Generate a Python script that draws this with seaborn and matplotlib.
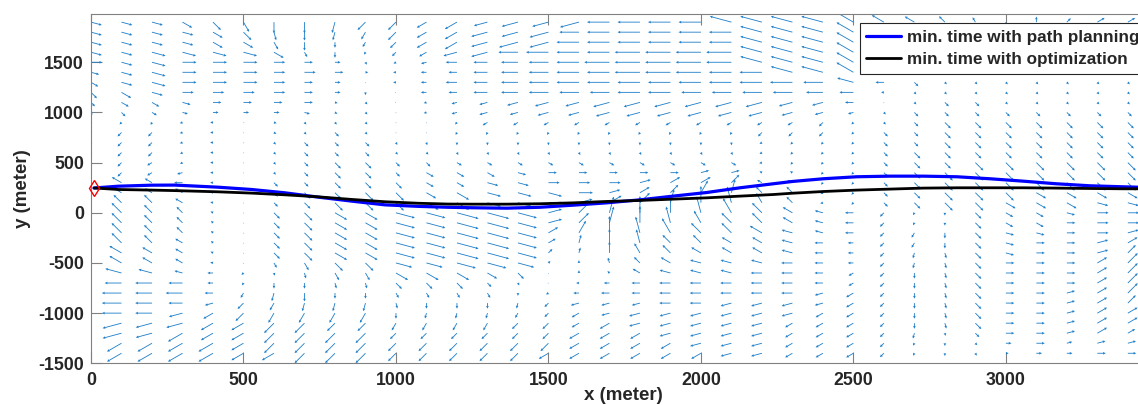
import numpy as np
import matplotlib
matplotlib.use("Agg")
import matplotlib.pyplot as plt
import seaborn as sns

# ---------------- data ----------------
# Path 1: minimum time with path planning (blue)
plan_x = [10, 90, 199, 275, 417, 527, 636, 745, 855, 964, 1073, 1170, 1254, 1363,
          1472, 1582, 1691, 1800, 1909, 2019, 2128, 2237, 2300, 2401, 2511, 2620,
          2729, 2839, 2948, 3057, 3166, 3276, 3385, 3433]
plan_y = [247, 265, 275, 276, 255, 232, 199, 156, 116, 79, 64, 55, 50, 46,
          55, 76, 99, 129, 166, 202, 249, 289, 312, 339, 359, 365,
          365, 359, 339, 315, 289, 269, 259, 255]
# Path 2: minimum time with optimization (black)
opt_x = plan_x
opt_y = [247, 232, 226, 221, 209, 196, 179, 159, 133, 110, 95, 87, 86, 86,
         90, 99, 113, 123, 136, 149, 166, 182, 195, 212, 226, 236,
         246, 249, 249, 249, 246, 242, 239, 239]
start_x = [10]
start_y = [247]

# Current field read arrow by arrow: 35 columns (x = 0..3400 m),
# 34 rows (y = 1900 .. -1400 m).
# Direction code: k -> k*15 degrees on screen (0 = east, 6 = north, c = west, i = south)
# Length code: apparent arrow length in steps of 2.8 px
grid_x = np.arange(35) * 100.0
grid_y = 1900.0 - np.arange(34) * 100.0

dir_rows = [
    "nnnmlkiihf" "feeddddccccb" "bbba" "aa98i6322",
    "nnnnmljihg" "feedddcccccc" "bbba" "aa99i6322",
    "nnnnmmkiig" "feedddcccccc" "bbba" "lllllllll",
    "nnnnnnmkig" "feddcccccccc" "bbba" "lllllllll",
    "0nn000000k" "edcccccccccc" "bbba" "lllllllll",
    "nnn0000000" "cccccccccccc" "cbba" "lllllllll",
    "mnn000000i" "cccccccccccc" "cccb" "cllllllll",
    "lmn000000i" "cccccccccccc" "cccc" "cllllllll",
    "lmmn0000nl" "cddddddddddd" "dddc" "illllllll",
    "klmn000nml" "iddddddddddd" "dddd" "lllllllll",
    "hfgdc0nlll" "ihfeeeeeeeee" "eeff" "lllllllll",
    "hffdcimlll" "iigggggggggg" "ffff" "lllllllll",
    "hffdcillll" "kjiiiiiiiiii" "efff" "lllllllll",
    "hffecillll" "llkkkkkkkkkk" "efff" "lllllllll",
    "hfeecillll" "llmmmmmmmmmm" "dfff" "lllllllll",
    "ffedcillll" "lmmmn0000011" "aaff" "lllllllll",
    "aaaccillll" "lmmnn0001223" "aaff" "lllllllll",
    "aaaabillll" "lmmnnn012345" "99ef" "lllllmmmm",
    "999abillll" "lmmnn0123567" "89df" "llllmmmnn",
    "9999aillmm" "nnnnn1356678" "9abc" "fgilmmn00",
    "99999illmm" "nnnnn1356789" "9abc" "fgilmm000",
    "99999illmm" "nnnnn2467899" "abbc" "fgilnn001",
    "999a9illmm" "nnnnn256799a" "abcc" "fgiln0012",
    "aaaaaillmm" "nnnnn35689aa" "abcc" "fhjln0013",
    "aaaabikkll" "nnnnn3679abb" "bccc" "fhjl00023",
    "bbbbcfjjkk" "mmmmli69abbb" "ccce" "fijl00023",
    "cccccgiijj" "llllkecccccc" "ccce" "fijl00023",
    "cccccghiii" "kkkkiecccccc" "ccde" "fijl00123",
    "ccccdfghhh" "jiiihfdddccd" "ddde" "fijl00123",
    "cccdefgggg" "ihhhgfeddddd" "ddee" "fijl00122",
    "ddddeeffff" "ggggffeedddd" "deee" "fijl00122",
    "dddeeeffff" "ffffffeeeddd" "deee" "fhjl00122",
    "eeeeeeffff" "ffffffeeeedd" "deee" "fgil00111",
    "eeeeeeefff" "fffffeeeeeed" "deee" "fgik00000",
]
len_rows = [
    "4444444444" "445566788888" "8887" "543222233",
    "4444443333" "445667788888" "8887" "543222233",
    "4444443322" "345677888888" "8887" "111111111",
    "4455554221" "235678889999" "8887" "111111111",
    "4455554321" "124567899999" "8887" "111111111",
    "3455554431" "123567889998" "8887" "111111111",
    "3455554320" "124567888888" "8876" "321111111",
    "3444444321" "023567778877" "7765" "111111111",
    "2333333311" "012345566666" "6543" "012211111",
    "1222222211" "012334455555" "5432" "122222222",
    "1111101111" "001222222222" "2221" "123333333",
    "1221101121" "001111111111" "2221" "223333333",
    "1221101222" "111111111111" "1111" "223333333",
    "1221101222" "111111111111" "1111" "233333333",
    "1221101233" "222222222222" "1111" "233444444",
    "2222101233" "233333333333" "1111" "234444444",
    "4433102233" "333444444444" "2211" "234444444",
    "4433102334" "445555544455" "3311" "234444444",
    "4443102344" "455555555566" "4311" "234444444",
    "5543103455" "778875566666" "5433" "211333344",
    "5543103455" "778875566655" "5433" "211333344",
    "5543103455" "778874566655" "5433" "222333344",
    "5543103455" "778873355444" "4432" "222333344",
    "5543103455" "778872244444" "4432" "222333344",
    "5543102344" "667761123444" "4432" "222333345",
    "6653211233" "555430113444" "4432" "222333345",
    "6665212222" "333210123444" "4432" "222333345",
    "7766323322" "222211233444" "4433" "222333345",
    "7765333333" "222222333444" "4433" "222333344",
    "7765444444" "222222334444" "4433" "222333344",
    "7766555544" "333333344444" "4333" "222333344",
    "7766555555" "333333444444" "4333" "221233343",
    "6666655555" "444444444444" "4333" "211123233",
    "6666655555" "444444444444" "4333" "211112233",
]

x_ticks = [0, 500, 1000, 1500, 2000, 2500, 3000]
y_ticks = [-1500, -1000, -500, 0, 500, 1000, 1500]
legend_labels = ["min. time with path planning", "min. time with optimization"]

# ---------------- decode field ----------------
CODES = "0123456789abcdefghijklmn"
for r in dir_rows + len_rows:
    assert len(r) == 35, (r, len(r))
ang = np.array([[CODES.index(ch) * 15.0 for ch in row] for row in dir_rows])
mag = np.array([[int(ch) for ch in row] for row in len_rows], dtype=float)
mag_px = np.where(mag == 0, 0.9, mag * 2.8)
U = mag_px * np.cos(np.radians(ang))
V = mag_px * np.sin(np.radians(ang))
GX, GY = np.meshgrid(grid_x, grid_y)

# ---------------- figure ----------------
sns.set_theme(style="white")
plt.rcParams["font.family"] = ["Liberation Sans", "DejaVu Sans"]
plt.rcParams["font.weight"] = "bold"

W, H = 1138, 405
fig = plt.figure(figsize=(W / 100, H / 100), dpi=100)
ax_left, ax_right_px = 91, 1155
ax_top, ax_bot = 14.3, 363.3
ax = fig.add_axes([ax_left / W, (H - ax_bot) / H, (ax_right_px - ax_left) / W,
                   (ax_bot - ax_top) / H])
ax.set_facecolor("white")

ax.quiver(GX, GY, U, V, angles="uv", scale_units="dots", scale=1,
          units="dots", width=0.85, headwidth=3.2, headlength=3.3,
          headaxislength=3.0, color="#1f7fc8", pivot="tail", zorder=1)

sns.lineplot(x=plan_x, y=plan_y, ax=ax, color="#0000FF", linewidth=2.3,
             sort=False, estimator=None, zorder=3)
sns.lineplot(x=opt_x, y=opt_y, ax=ax, color="#000000", linewidth=2.0,
             sort=False, estimator=None, zorder=4)
ax.plot(start_x, start_y, marker="d", markersize=8, markerfacecolor="none",
        markeredgecolor="red", markeredgewidth=1.0, linestyle="none",
        zorder=5, clip_on=False)

ax.set_xlim(0, 3489)
ax.set_ylim(-1500, 1978)
ax.set_xticks(x_ticks)
ax.set_yticks(y_ticks)
ax.set_xticklabels([str(t) for t in x_ticks], fontsize=12.8, fontweight="bold",
                   color="#262626")
ax.set_yticklabels([str(t) for t in y_ticks], fontsize=12.8, fontweight="bold",
                   color="#262626")
ax.tick_params(axis="both", direction="in", length=7.7, width=0.8,
               color="#808080", top=True, right=True, bottom=True, left=True)
ax.tick_params(axis="x", pad=6)
ax.tick_params(axis="y", pad=5)
for side in ["left", "bottom", "top", "right"]:
    ax.spines[side].set_color("#808080")
    ax.spines[side].set_linewidth(0.8)
    ax.spines[side].set_visible(True)

ax.set_xlabel("x (meter)", fontsize=13.5, fontweight="bold", color="#262626",
              labelpad=-1)
ax.set_ylabel("y (meter)", fontsize=13.5, fontweight="bold", color="#262626",
              labelpad=5)

handles = [ax.lines[0], ax.lines[1]]
leg = ax.legend(handles, legend_labels, loc="upper left",
                bbox_to_anchor=(0.7227, 0.974), borderaxespad=0,
                frameon=True, fancybox=False, framealpha=1,
                edgecolor="#262626",
                prop={"weight": "bold", "size": 12.3},
                handlelength=2.05, handletextpad=0.3, borderpad=0.38,
                labelspacing=0.42)
leg.get_frame().set_linewidth(0.8)
leg.set_zorder(10)

fig.savefig("out.png", dpi=100)
